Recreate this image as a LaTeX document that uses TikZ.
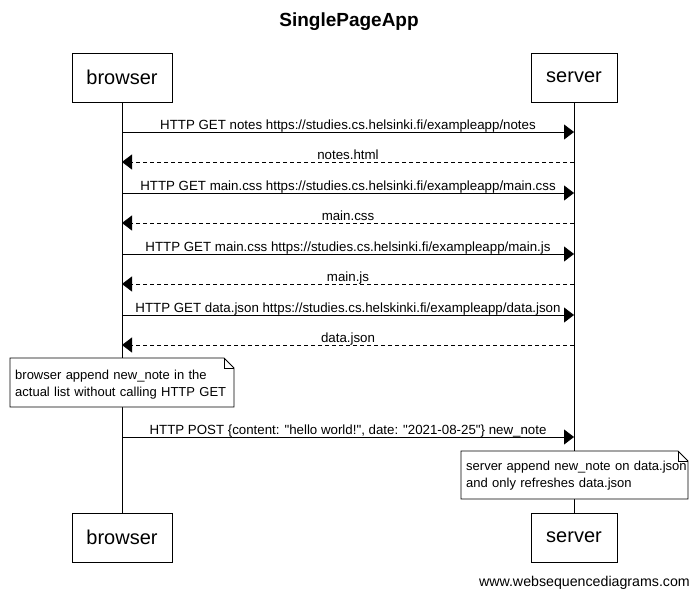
\documentclass[tikz,border=0pt]{standalone}
\usepackage{fontspec}
\setmainfont{Liberation Sans}[Ligatures=TeXOff]
\usetikzlibrary{arrows.meta}
\begin{document}
\begin{tikzpicture}[x=1pt,y=-1pt,
  actor/.style={draw,line width=0.8pt,fill=white,minimum height=49pt,inner sep=0pt,font=\fontsize{20}{24}\selectfont},
  msg/.style={line width=0.8pt,-{Triangle[length=10pt,width=15pt]}},
  reply/.style={msg,dashed,dash pattern=on 4pt off 3pt},
  lbl/.style={font=\fontsize{13.3}{15}\selectfont,anchor=base,inner sep=0pt},
  notetext/.style={font=\fontsize{13}{17.5}\selectfont,align=left,anchor=north west,inner sep=0pt,text width=#1},
  lifeline/.style={line width=0.8pt}]
\useasboundingbox (0,0) rectangle (698,597);
\node[font=\bfseries\fontsize{19}{22}\selectfont] (title) at (349,22) {SinglePageApp};
% lifelines
\coordinate (bt) at (122,102); \coordinate (bb) at (122,513);
\coordinate (st) at (574,102); \coordinate (sb) at (574,513);
\draw[lifeline] (bt) -- (bb);
\draw[lifeline] (st) -- (sb);
% actors
\node[actor,minimum width=100pt] (browserT) at (122,77.5) {browser};
\node[actor,minimum width=86pt] (serverT) at (574,77.5) {server};
\node[actor,minimum width=100pt] (browserB) at (122,537.5) {browser};
\node[actor,minimum width=86pt] (serverB) at (574,537.5) {server};
% message points
\foreach \i/\y in {1/132,2/162,3/193,4/223,5/254,6/284,7/315,8/345,9/437}{
  \coordinate (b\i) at (122,\y); \coordinate (s\i) at (574,\y);
}
\draw[msg] (b1) -- (s1);
\node[lbl] (l1) at (348,129) {HTTP GET notes https://studies.cs.helsinki.fi/exampleapp/notes};
\draw[reply] (s2) -- (b2);
\node[lbl] (l2) at (348,159) {notes.html};
\draw[msg] (b3) -- (s3);
\node[lbl] (l3) at (348,190) {HTTP GET main.css https://studies.cs.helsinki.fi/exampleapp/main.css};
\draw[reply] (s4) -- (b4);
\node[lbl] (l4) at (348,220) {main.css};
\draw[msg] (b5) -- (s5);
\node[lbl] (l5) at (348,251) {HTTP GET main.css https://studies.cs.helsinki.fi/exampleapp/main.js};
\draw[reply] (s6) -- (b6);
\node[lbl] (l6) at (348,281) {main.js};
\draw[msg] (b7) -- (s7);
\node[lbl] (l7) at (348,312) {HTTP GET data.json https://studies.cs.helskinki.fi/exampleapp/data.json};
\draw[reply] (s8) -- (b8);
\node[lbl] (l8) at (348,342) {data.json};
% note 1
\coordinate (n1a) at (10,358); \coordinate (n1b) at (234,407);
\draw[line width=0.8pt,fill=white] (n1a) -- (224,358) -- (234,368) |- (n1a |- n1b) -- cycle;
\draw[line width=0.6pt] (224,358) |- (234,368);
\node[notetext=222pt] (note1) at (15,369.5) {browser append new\_note in the\\actual list without calling HTTP GET};
% message 9
\draw[msg] (b9) -- (s9);
\node[lbl] (l9) at (348,434) {HTTP POST \{content: "hello world!", date: "2021-08-25"\} new\_note};
% note 2
\coordinate (n2a) at (461,451); \coordinate (n2b) at (688,499);
\draw[line width=0.8pt,fill=white] (n2a) -- (678,451) -- (688,461) |- (n2a |- n2b) -- cycle;
\draw[line width=0.6pt] (678,451) |- (688,461);
\node[notetext=225pt] (note2) at (466,460.5) {server append new\_note on data.json\\and only refreshes data.json};
% footer
\node[font=\fontsize{14.2}{16}\selectfont,anchor=base east,inner sep=0pt] (footer) at (690,586) {www.websequencediagrams.com};
\end{tikzpicture}
\end{document}
